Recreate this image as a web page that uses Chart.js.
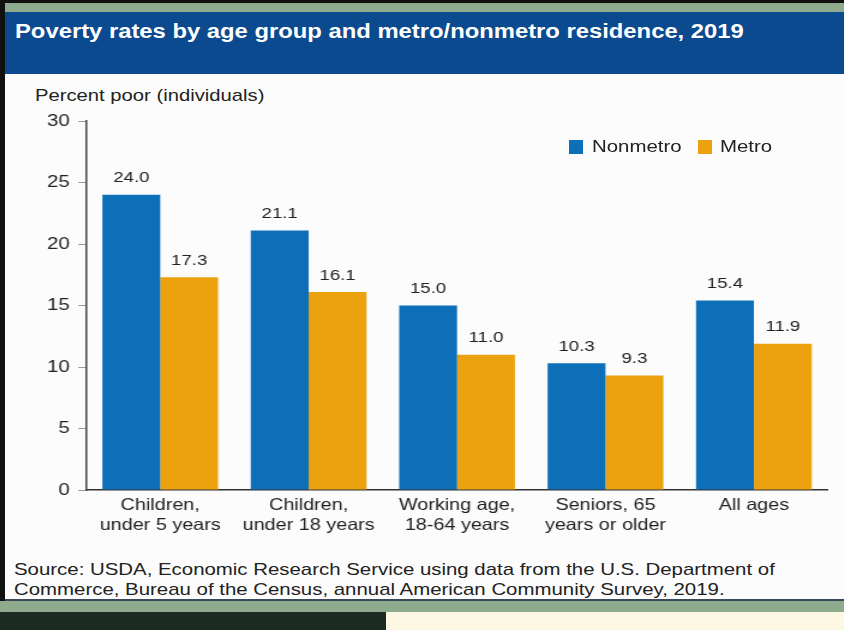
<!DOCTYPE html>
<html>
<head>
<meta charset="utf-8">
<script src="https://cdn.jsdelivr.net/npm/chart.js@4"></script>
<style>
  html, body { margin: 0; padding: 0; background: #ffffff; }
  #frame { position: relative; width: 844px; height: 630px; overflow: hidden; background: #fcfcfc; font-family: "Liberation Sans", Arial, sans-serif; }
  .abs { position: absolute; }
  .stretch { transform-origin: 0 0; white-space: nowrap; }
  #topBlack { left: 0; top: 0; width: 844px; height: 3px; background: #111; }
  #leftBlack { left: 0; top: 0; width: 5px; height: 612px; background: #111; }
  #topGreen { left: 5px; top: 3px; width: 839px; height: 9px; background: #8fab8e; }
  #titleBar { left: 5px; top: 12px; width: 839px; height: 62px; background: #0b4a8e; }
  #titleText { left: 15px; top: 20px; color: #fff; font-weight: bold; font-size: 20px; transform: scaleX(1.19); }
  #yTitle { left: 35px; top: 86px; color: #222; font-size: 17px; transform: scaleX(1.19); }
  #source { left: 14px; top: 560px; color: #222; font-size: 17px; line-height: 20px; transform: scaleX(1.2); }
  #bottomLine { left: 5px; top: 599px; width: 839px; height: 2px; background: #3a4a5a; }
  #bottomGreen { left: 0; top: 601px; width: 844px; height: 11px; background: #8fab8e; }
  #darkBlock { left: 0; top: 612px; width: 386px; height: 18px; background: #1b2b22; }
  #cream { left: 386px; top: 612px; width: 458px; height: 18px; background: #fcf8e4; }
  #canvasWrap { left: 5px; top: 76px; width: 699.17px; height: 484px; transform: scaleX(1.2); transform-origin: 0 0; }
  .legBox { position: absolute; top: 140px; width: 14px; height: 14px; }
  .legText { position: absolute; top: 137px; font-size: 17px; color: #222; transform: scaleX(1.2); transform-origin: 0 0; white-space: nowrap; }
</style>
</head>
<body>
<div id="frame">
  <div id="topBlack" class="abs"></div>
  <div id="topGreen" class="abs"></div>
  <div id="titleBar" class="abs"></div>
  <div id="titleText" class="abs stretch">Poverty rates by age group and metro/nonmetro residence, 2019</div>
  <div id="leftBlack" class="abs"></div>
  <div id="yTitle" class="abs stretch">Percent poor (individuals)</div>
  <div id="canvasWrap" class="abs"><canvas id="c"></canvas></div>
  <div class="legBox" style="left:569px;background:#0c6fb8"></div>
  <div class="legText" style="left:592px">Nonmetro</div>
  <div class="legBox" style="left:698px;background:#eba20e"></div>
  <div class="legText" style="left:720px">Metro</div>
  <div id="source" class="abs stretch">Source: USDA, Economic Research Service using data from the U.S. Department of<br>Commerce, Bureau of the Census, annual American Community Survey, 2019.</div>
  <div id="bottomLine" class="abs"></div>
  <div id="bottomGreen" class="abs"></div>
  <div id="darkBlock" class="abs"></div>
  <div id="cream" class="abs"></div>
</div>
<script>
const categories = [
  ["Children,", "under 5 years"],
  ["Children,", "under 18 years"],
  ["Working age,", "18-64 years"],
  ["Seniors, 65", "years or older"],
  ["All ages"]
];
const nonmetro = [24.0, 21.1, 15.0, 10.3, 15.4];
const metro = [17.3, 16.1, 11.0, 9.3, 11.9];
const yTicks = [0, 5, 10, 15, 20, 25, 30];

const FONT = "'Liberation Sans', Arial, sans-serif";

const labelPlugin = {
  id: 'barLabels',
  afterDatasetsDraw(chart) {
    const ctx = chart.ctx;
    ctx.save();
    ctx.font = "15.5px " + FONT;
    ctx.fillStyle = "#222";
    ctx.textAlign = "center";
    ctx.textBaseline = "bottom";
    chart.data.datasets.forEach((ds, i) => {
      const meta = chart.getDatasetMeta(i);
      meta.data.forEach((bar, j) => {
        ctx.fillText(ds.data[j].toFixed(1), bar.x, bar.y - 9);
      });
    });
    ctx.restore();
  }
};

new Chart(document.getElementById('c'), {
  type: 'bar',
  data: {
    labels: categories,
    datasets: [
      { label: 'Nonmetro', data: nonmetro, backgroundColor: '#0c6fb8', categoryPercentage: 0.78, barPercentage: 1.0 },
      { label: 'Metro', data: metro, backgroundColor: '#eba20e', categoryPercentage: 0.78, barPercentage: 1.0 }
    ]
  },
  options: {
    responsive: true,
    maintainAspectRatio: false,
    animation: false,
    layout: { padding: { top: 45, right: 13.3, left: 0, bottom: 0 } },
    plugins: { legend: { display: false }, tooltip: { enabled: false } },
    scales: {
      x: {
        grid: { display: false },
        border: { display: true, color: '#333', width: 1.5 },
        ticks: { color: '#222', font: { size: 16.5, family: FONT, lineHeight: 1.2 }, padding: -2, maxRotation: 0, autoSkip: false },
        afterFit(scale) { scale.height = 70; }
      },
      y: {
        min: 0, max: 30,
        afterBuildTicks(scale) { scale.ticks = yTicks.map(v => ({ value: v })); },
        grid: { display: true, drawOnChartArea: false, drawTicks: true, tickLength: 6.5, color: '#999' },
        border: { display: true, color: '#444', width: 1.5 },
        ticks: { color: '#222', font: { size: 17, family: FONT }, padding: 7 },
        afterFit(scale) { scale.width = 67.5; }
      }
    }
  },
  plugins: [labelPlugin]
});
</script>
</body>
</html>
